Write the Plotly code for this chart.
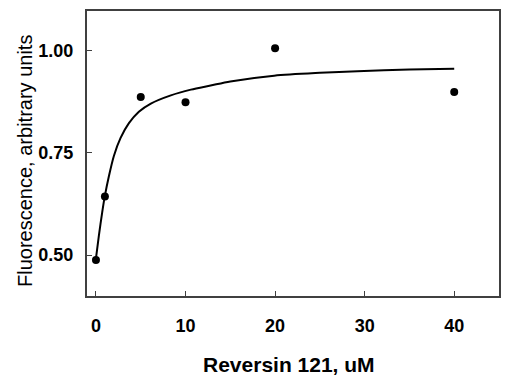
import plotly.graph_objects as go

# measured data points
conc = [0, 1, 5, 10, 20, 40]
fluor = [0.488, 0.643, 0.886, 0.873, 1.005, 0.898]

# fitted curve
fit_x = [0, 0.33, 0.7, 1.0, 1.45, 2.0, 2.75, 3.68, 4.79, 6.13, 8.36, 10.6,
         12.8, 15, 19.9, 25, 29.2, 35, 40]
fit_y = [0.492, 0.548, 0.605, 0.645, 0.693, 0.742, 0.786, 0.822, 0.850, 0.870,
         0.890, 0.904, 0.914, 0.924, 0.938, 0.945, 0.949, 0.953, 0.955]

x_ticks = [0, 10, 20, 30, 40]
y_ticks = [0.50, 0.75, 1.00]
y_tick_labels = ["0.50", "0.75", "1.00"]

# the page body has an 8px default margin; size the figure to compensate
W, H = 502, 370
ML, MR, MT, MB = 79, 11, 1, 82
PW = W - ML - MR   # plot width in px
PH = H - MT - MB   # plot height in px
PLOT_LEFT = 8 + ML
PLOT_BOTTOM = 8 + MT + PH

fig = go.Figure()
fig.add_trace(go.Scatter(x=fit_x, y=fit_y, mode="lines",
                         line=dict(color="black", width=2, shape="spline", smoothing=0.8),
                         hoverinfo="skip", showlegend=False))
fig.add_trace(go.Scatter(x=conc, y=fluor, mode="markers",
                         marker=dict(color="black", size=8), showlegend=False))

axis_common = dict(showline=True, linecolor="#404040", linewidth=2, mirror=True,
                   ticks="inside", ticklen=5, tickwidth=1, tickcolor="#404040",
                   showgrid=False, zeroline=False,
                   tickfont=dict(family="Liberation Sans, Arial", size=18, color="black", weight="bold"))

fig.update_layout(
    width=W, height=H,
    margin=dict(l=ML, r=MR, t=MT, b=MB),
    paper_bgcolor="white", plot_bgcolor="white",
    xaxis=dict(range=[-1, 45], tickvals=x_ticks, ticklabelstandoff=12, **axis_common),
    yaxis=dict(range=[0.40, 1.096], tickvals=y_ticks, ticktext=y_tick_labels,
               ticklabelstandoff=8, **axis_common),
    annotations=[
        dict(text="Reversin 121, uM", xref="paper", yref="paper",
             x=(289 - PLOT_LEFT) / PW, y=(PLOT_BOTTOM - 365) / PH,
             xanchor="center", yanchor="middle", showarrow=False,
             font=dict(family="Liberation Sans, Arial", size=21, color="black", weight="bold")),
        dict(text="Fluorescence, arbitrary units", xref="paper", yref="paper",
             x=(25 - PLOT_LEFT) / PW, y=(PLOT_BOTTOM - 160) / PH,
             xanchor="center", yanchor="middle", textangle=-90, showarrow=False,
             font=dict(family="Liberation Sans, Arial", size=20, color="black")),
    ],
)

fig.write_html("out.html")
